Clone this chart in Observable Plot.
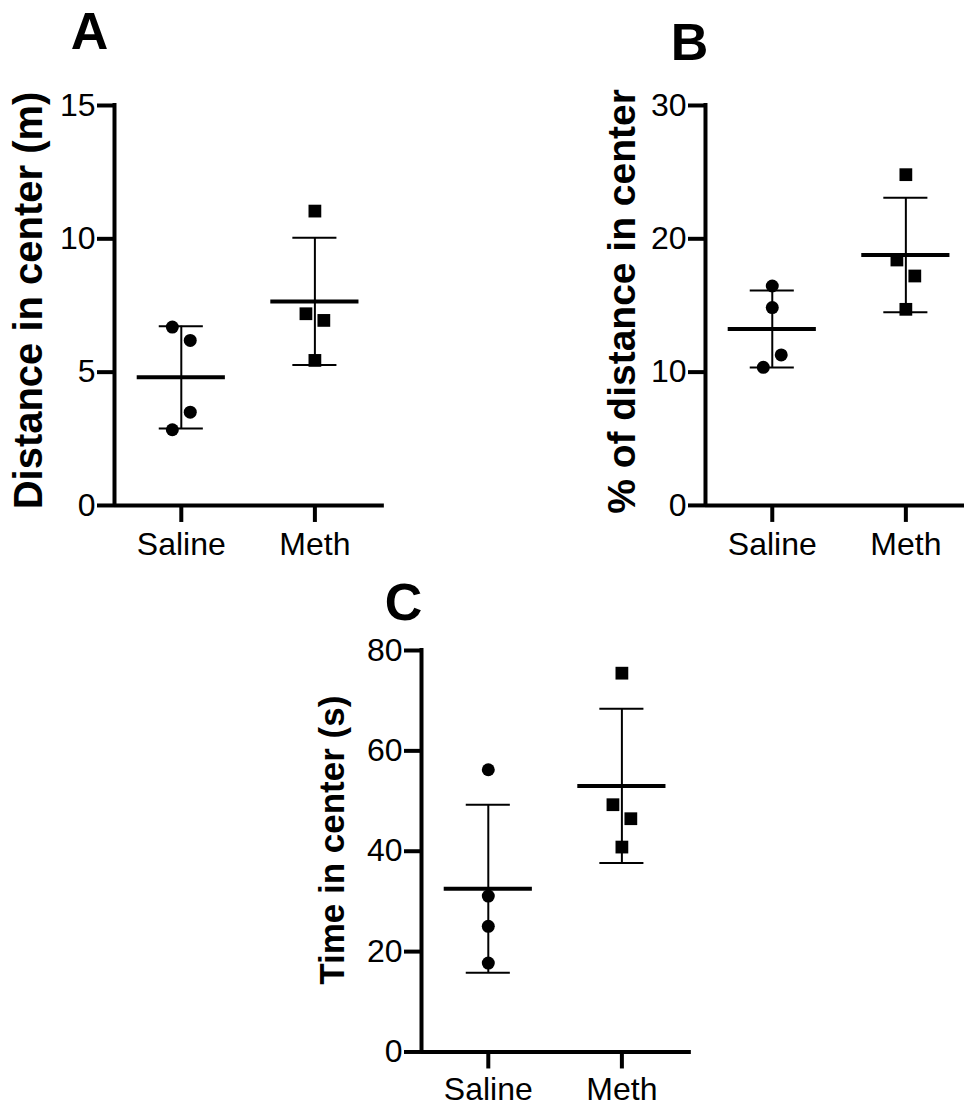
<!DOCTYPE html>
<html><head><meta charset="utf-8">
<script src="https://cdn.jsdelivr.net/npm/d3@7"></script>
<script src="https://cdn.jsdelivr.net/npm/@observablehq/plot@0.6"></script>
<style>
html,body{margin:0;padding:0;background:#fff;}
#root{position:relative;width:964px;height:1106px;overflow:hidden;background:#fff;}
.panel{position:absolute;}
.panel svg{overflow:visible;}
</style></head><body><div id="root"></div>
<script>
// ---- data ----
const groups = ["Saline", "Meth"];

const distSaline = [6.69, 6.19, 3.50, 2.84];
const distMeth   = [11.04, 7.19, 6.94, 5.44];
const distTicks  = [0, 5, 10, 15];

const pctSaline  = [16.46, 14.84, 11.29, 10.36];
const pctMeth    = [24.81, 18.41, 17.21, 14.71];
const pctTicks   = [0, 10, 20, 30];

const timeSaline = [56.24, 31.07, 25.03, 17.72];
const timeMeth   = [75.48, 49.27, 46.48, 40.83];
const timeTicks  = [0, 20, 40, 60, 80];

// horizontal spread of overlapping points (-1 left, 0 centre, +1 right)
const jitterA = {Saline: [-1, 1, 1, -1], Meth: [0, -1, 1, 0]};
const jitterB = {Saline: [0, 0, 1, -1], Meth: [0, -1, 1, 0]};
const jitterC = {Saline: [0, 0, 0, 0], Meth: [0, -1, 1, 0]};

const FONT = "'Liberation Sans', Arial, Helvetica, sans-serif";
const K = 133.6; // px per category step

function panel(cfg) {
  const pts = [];
  const stats = [];
  [[cfg.saline, "Saline"], [cfg.meth, "Meth"]].forEach(([vals, g], gi) => {
    vals.forEach((v, i) => pts.push({group: g, x: gi + 1 + cfg.jitter[g][i] * 0.067, y: v}));
    stats.push({x: gi + 1, mean: d3.mean(vals), sd: d3.deviation(vals)});
  });
  const mL = 114, mT = 105;
  const plotW = (cfg.xMax - 0.5) * K;
  const width = mL + plotW + cfg.mR;
  const height = mT + cfg.plotH + cfg.mB;
  const chart = Plot.plot({
    width, height,
    marginLeft: mL, marginTop: mT, marginRight: cfg.mR, marginBottom: cfg.mB,
    x: {domain: [0.5, cfg.xMax], axis: null},
    y: {domain: [0, cfg.yMax], axis: null},
    style: {fontFamily: FONT, fontSize: "32px", color: "black", background: "transparent", overflow: "visible"},
    marks: [
      Plot.ruleY([0], {x1: 0.5, x2: cfg.xMax, strokeWidth: 4, stroke: "black"}),
      Plot.ruleX([0.5], {y1: 0, y2: cfg.yMax, strokeWidth: 4, stroke: "black", strokeLinecap: "square"}),
      Plot.axisY({ticks: cfg.ticks, tickSize: 17, tickPadding: 2, strokeWidth: 4, fontSize: 32, fontFamily: FONT, tickFormat: d => String(d), label: null}),
      Plot.axisX({ticks: [1, 2], tickSize: 17, tickPadding: cfg.xPad, strokeWidth: 4, fontSize: 32, fontFamily: FONT, tickFormat: d => groups[d - 1], label: null}),
      Plot.ruleX(stats, {x: "x", y1: d => d.mean - d.sd, y2: d => d.mean + d.sd, strokeWidth: 2, stroke: "black"}),
      Plot.ruleY(stats, {y: d => d.mean + d.sd, x1: d => d.x - 0.165, x2: d => d.x + 0.165, strokeWidth: 2, stroke: "black"}),
      Plot.ruleY(stats, {y: d => d.mean - d.sd, x1: d => d.x - 0.165, x2: d => d.x + 0.165, strokeWidth: 2, stroke: "black"}),
      Plot.ruleY(stats, {y: "mean", x1: d => d.x - 0.33, x2: d => d.x + 0.33, strokeWidth: 4, stroke: "black"}),
      Plot.dot(pts.filter(d => d.group === "Saline"), {x: "x", y: "y", r: 6.5, fill: "black", stroke: "none", symbol: "circle"}),
      Plot.dot(pts.filter(d => d.group === "Meth"), {x: "x", y: "y", r: 7.2, fill: "black", stroke: "none", symbol: "square"}),
      Plot.text([cfg.title], {text: d => d, frameAnchor: "left", rotate: -90, dx: cfg.titleDx, dy: cfg.titleDy,
        fontSize: cfg.titleSize, fontWeight: "bold", fontFamily: FONT, textAnchor: "middle", lineAnchor: "bottom", fill: "black"}),
      Plot.text([cfg.letter], {text: d => d, frameAnchor: "top-left", dx: cfg.letterDx, dy: cfg.letterDy,
        fontSize: 52, fontWeight: "bold", fontFamily: FONT, textAnchor: "middle", lineAnchor: "bottom", fill: "black"})
    ]
  });
  const div = document.createElement("div");
  div.className = "panel";
  div.style.left = cfg.left + "px";
  div.style.top = cfg.top + "px";
  div.appendChild(chart);
  document.getElementById("root").appendChild(div);
}

panel({left: 0, top: 0, xMax: 2.52, mR: 10, plotH: 400, mB: 65, xPad: 10, yMax: 15, ticks: distTicks,
  saline: distSaline, meth: distMeth, jitter: jitterA,
  title: "Distance in center (m)", titleSize: 40, titleDx: -73, titleDy: -5,
  letter: "A", letterDx: -25, letterDy: -56});

panel({left: 591, top: 0, xMax: 2.439, mR: 0, plotH: 400, mB: 65, xPad: 10, yMax: 30, ticks: pctTicks,
  saline: pctSaline, meth: pctMeth, jitter: jitterB,
  title: "% of distance in center", titleSize: 39, titleDx: -70, titleDy: -4,
  letter: "B", letterDx: -16, letterDy: -45});

panel({left: 307, top: 545, xMax: 2.52, mR: 10, plotH: 401.5, mB: 54.5, xPad: 8, yMax: 80, ticks: timeTicks,
  saline: timeSaline, meth: timeMeth, jitter: jitterC,
  title: "Time in center (s)", titleSize: 35, titleDx: -78, titleDy: -11,
  letter: "C", letterDx: -18, letterDy: -30});
</script>
</body></html>
